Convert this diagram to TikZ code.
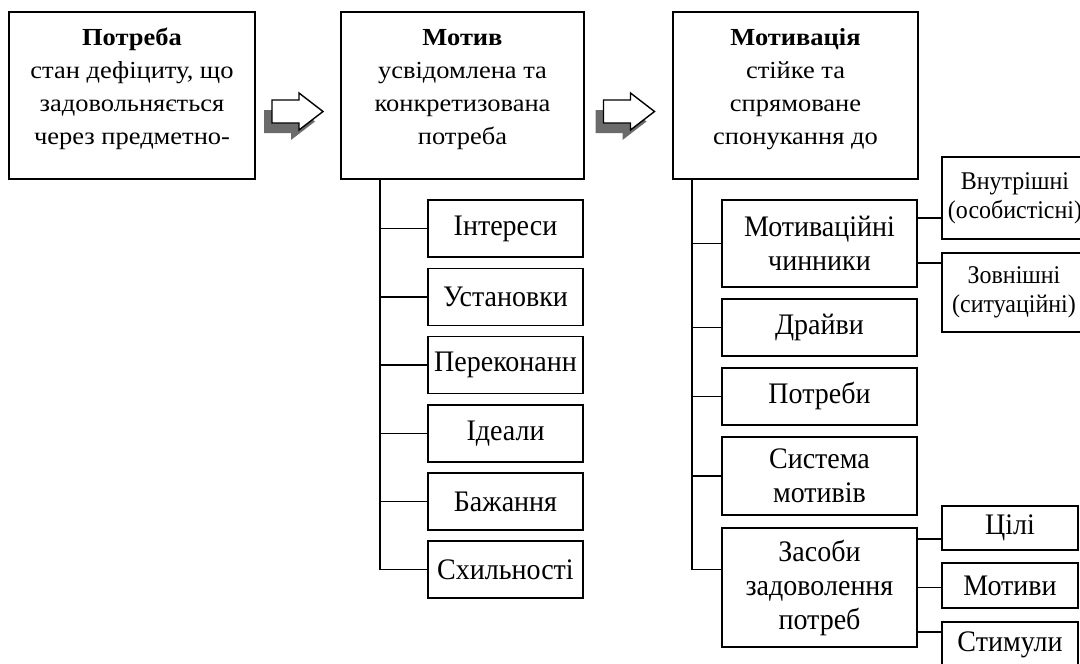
\documentclass[tikz,border=0pt]{standalone}
\usepackage{fontspec}
\setmainfont[FakeStretch=0.94]{Liberation Serif}
\newfontfamily\topfont[FakeStretch=1.08]{Liberation Serif}
\usetikzlibrary{positioning}

\begin{document}
\begin{tikzpicture}[x=1pt, y=-1pt, line width=1.5pt,
	topbox/.style={draw, align=center, inner sep=0pt, font=\topfont\fontsize{24.5}{33}\selectfont, minimum height=167pt},
	itembox/.style={draw, align=center, inner sep=0pt, font=\fontsize{29.8}{34}\selectfont},
	sidebox/.style={draw, align=center, inner sep=0pt, font=\fontsize{25.5}{29}\selectfont},
	arrowshade/.style={fill=black!58},
	arrowbody/.style={draw, fill=white, line width=1.4pt}]
		\useasboundingbox (0,0) rectangle (1080,664);

		% top row
		\draw (132,95.5) node[topbox, minimum width=246pt] (potreba) {\textbf{Потреба}\\стан дефіциту, що\\задовольняється\\через предметно-\\[-15pt]\mbox{}}
		(462.5,95.5) node[topbox, minimum width=243pt] (motyv) {\textbf{Мотив}\\усвідомлена та\\конкретизована\\потреба\\[-15pt]\mbox{}}
		(795.5,95.5) node[topbox, minimum width=245pt] (motyvatsiia) {\textbf{Мотивація}\\стійке та\\спрямоване\\спонукання до\\[-15pt]\mbox{}};

		% block arrows between the boxes
		\coordinate (arr1) at (297.5,111.5);
		\coordinate (arr2) at (629,111.5);
		\foreach \a in {arr1, arr2} {
			\begin{scope}[shift={(\a)}]
				\fill[arrowshade] (-33.5,-1.5) -- (-6.5,-1.5) -- (-6.5,-8.5) -- (17.5,10) -- (-6.5,28.5) -- (-6.5,21.5) -- (-33.5,21.5) -- cycle;
				\draw[arrowbody] (-25.5,-11.5) -- (1.5,-11.5) -- (1.5,-18.5) -- (25.5,0) -- (1.5,18.5) -- (1.5,11.5) -- (-25.5,11.5) -- cycle;
			\end{scope}
		}

		% left tree
		\draw (505.5,228.5) node[itembox, minimum width=155pt, minimum height=57pt] (interesy) {Інтереси}
		(505.5,297) node[itembox, minimum width=155pt, minimum height=57pt] (ustanovky) {Установки}
		(505.5,365) node[itembox, minimum width=155pt, minimum height=57pt] (perekonannia) {Переконанн}
		(505.5,433.5) node[itembox, minimum width=155pt, minimum height=57pt] (idealy) {Ідеали}
		(505.5,501.5) node[itembox, minimum width=155pt, minimum height=57pt] (bazhannia) {Бажання}
		(505.5,569.5) node[itembox, minimum width=155pt, minimum height=57pt] (skhylnosti) {Схильності};

		\coordinate (trunkL) at (380,179);
		\draw (trunkL) |- (skhylnosti.west);
		\foreach \n in {interesy, ustanovky, perekonannia, idealy, bazhannia}
			\draw (trunkL |- \n.west) -- (\n.west);

		% right tree
		\draw (819.5,243.5) node[itembox, minimum width=195pt, minimum height=87pt] (chynnyky) {Мотиваційні\\чинники}
		(819.5,327.5) node[itembox, minimum width=195pt, minimum height=57pt] (draivy) {Драйви}
		(819.5,396.5) node[itembox, minimum width=195pt, minimum height=57pt] (potreby) {Потреби}
		(819.5,476) node[itembox, minimum width=195pt, minimum height=78pt] (systema) {Система\\мотивів}
		(819.5,587.5) node[itembox, minimum width=195pt, minimum height=119pt] (zasoby) {Засоби\\задоволення\\потреб};

		\coordinate (trunkR) at (692,179);
		\draw (trunkR) |- ([yshift=18pt]zasoby.west);
		\foreach \n in {chynnyky, draivy, potreby, systema}
			\draw (trunkR |- \n.west) -- (\n.west);

		% side boxes
		\draw (1015,198) node[sidebox, minimum width=146pt, minimum height=82pt] (vnutrishni) {Внутрішні\\(особистісні)}
		(1014,292.5) node[sidebox, minimum width=144pt, minimum height=79pt] (zovnishni) {Зовнішні\\(ситуаційні)}
		(1010,528) node[itembox, minimum width=136pt, minimum height=44pt] (tsili) {Цілі}
		(1010,585.5) node[itembox, minimum width=136pt, minimum height=45pt] (motyvy) {Мотиви}
		(1010,644.5) node[itembox, minimum width=136pt, minimum height=45pt] (stymuly) {Стимули};

		\draw ([yshift=25.5pt]chynnyky.east) -- ([yshift=25.5pt]chynnyky.east -| vnutrishni.west);
		\draw ([yshift=-19.5pt]chynnyky.east) -- ([yshift=-19.5pt]chynnyky.east -| zovnishni.west);
		\draw ([yshift=48.5pt]zasoby.east) -- ([yshift=48.5pt]zasoby.east -| tsili.west);
		\draw (zasoby.east) -- (zasoby.east -| motyvy.west);
		\draw ([yshift=-44.5pt]zasoby.east) -- ([yshift=-44.5pt]zasoby.east -| stymuly.west);
	\end{tikzpicture}
\end{document}
